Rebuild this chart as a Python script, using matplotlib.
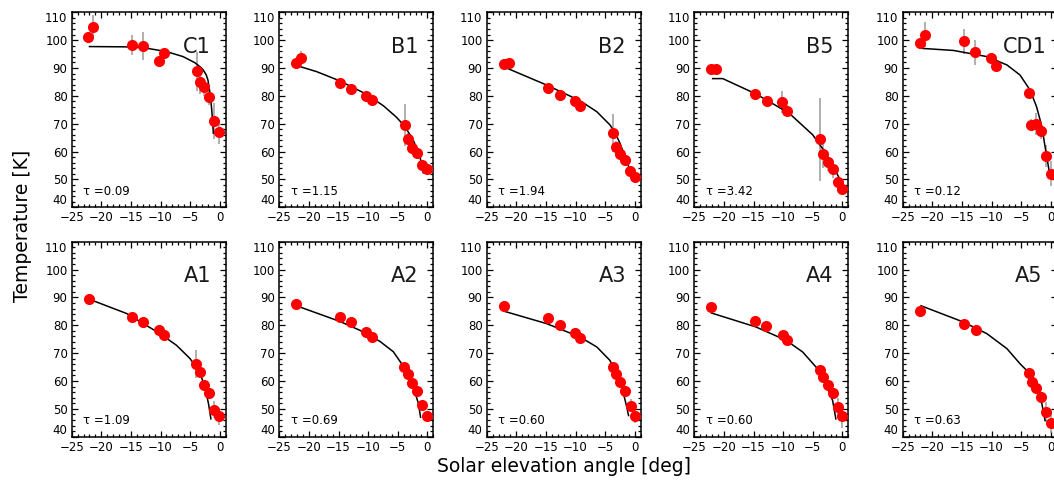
import matplotlib
matplotlib.use("Agg")
import matplotlib.pyplot as plt
from matplotlib.ticker import MultipleLocator

plt.rcParams['font.family'] = ['DejaVu Sans']

# ---------------- data ----------------
panel_names = ["C1", "B1", "B2", "B5", "CD1", "A1", "A2", "A3", "A4", "A5"]
tau_values = [0.09, 1.15, 1.94, 3.42, 0.12, 1.09, 0.69, 0.60, 0.60, 0.63]

x_C1 = [-22.2, -21.4, -14.8, -12.9, -10.3, -9.4, -3.9, -3.3, -2.7, -1.8, -0.9, -0.1]
t_C1 = [101.3, 104.9, 98.3, 97.9, 92.6, 95.3, 88.9, 85.1, 83.1, 79.6, 71.1, 66.9]
e_C1 = [1.0, 4.0, 3.5, 5.0, 1.0, 1.5, 7.0, 4.5, 3.0, 3.0, 6.5, 4.0]
fx_C1 = [-22.0, -16.0, -12.9, -9.0, -6.2, -4.2, -3.3, -2.8, -2.3, -2.0, -1.65, -1.35, -1.08]
ft_C1 = [97.7, 97.6, 97.3, 95.9, 94.1, 91.9, 90.4, 89.3, 87.6, 85.7, 81.0, 74.9, 66.6]

x_B1 = [-22.1, -21.4, -14.8, -12.9, -10.3, -9.3, -3.8, -3.25, -2.6, -1.7, -0.86, -0.05]
t_B1 = [91.9, 93.5, 84.5, 82.4, 80.1, 78.5, 69.6, 64.6, 61.4, 59.6, 55.2, 53.6]
e_B1 = [1.0, 2.5, 1.5, 1.5, 1.0, 1.0, 7.5, 2.0, 2.0, 1.5, 1.5, 1.5]
fx_B1 = [-22.1, -18.7, -14.8, -10.3, -7.4, -5.2, -3.8, -2.4, -1.25, -0.7]
ft_B1 = [90.9, 88.7, 85.4, 80.6, 76.4, 72.3, 69.0, 64.2, 58.2, 52.4]

x_B2 = [-22.0, -21.2, -14.6, -12.7, -10.1, -9.2, -3.7, -3.2, -2.5, -1.65, -0.8, 0.0]
t_B2 = [91.3, 91.9, 82.7, 80.4, 78.3, 76.5, 66.6, 61.8, 59.0, 57.0, 53.2, 51.0]
e_B2 = [1.0, 1.0, 1.0, 1.0, 1.0, 1.0, 6.8, 2.0, 1.5, 2.0, 1.5, 1.0]
fx_B2 = [-22.2, -14.9, -9.2, -6.4, -4.2, -3.3, -2.5, -1.65, -0.8, -0.24]
ft_B2 = [90.5, 83.9, 78.2, 74.3, 69.6, 66.6, 63.0, 58.2, 53.4, 49.8]

x_B5 = [-22.2, -21.3, -14.7, -12.8, -10.2, -9.3, -3.8, -3.2, -2.5, -1.65, -0.8, -0.07]
t_B5 = [89.7, 89.8, 80.6, 78.1, 77.9, 74.6, 64.4, 59.1, 56.1, 53.6, 49.2, 46.7]
e_B5 = [1.0, 1.0, 1.0, 1.0, 4.0, 2.0, 15.0, 5.0, 3.0, 3.0, 1.5, 2.0]
fx_B5 = [-21.9, -20.2, -14.6, -9.0, -5.0, -2.8, -1.1, -0.5]
ft_B5 = [86.2, 86.2, 80.7, 73.8, 66.0, 59.4, 52.8, 50.4]

x_CD1 = [-22.1, -21.2, -14.65, -12.8, -10.1, -9.25, -3.75, -3.3, -2.5, -1.7, -0.8, 0.0]
t_CD1 = [98.9, 101.9, 99.6, 95.6, 93.5, 90.6, 81.0, 69.6, 69.9, 67.4, 58.3, 52.0]
e_CD1 = [1.0, 4.5, 4.5, 4.5, 1.0, 1.5, 1.0, 2.0, 4.0, 3.0, 4.0, 4.5]
fx_CD1 = [-22.1, -16.4, -10.8, -7.4, -5.2, -3.5, -2.4, -1.5, -0.97, -0.58, -0.24]
ft_CD1 = [97.1, 96.3, 94.1, 91.1, 87.5, 82.1, 76.1, 69.0, 61.8, 57.0, 52.5]

x_A1 = [-22.1, -14.8, -12.9, -10.3, -9.4, -3.95, -3.3, -2.65, -1.75, -0.9, -0.07]
t_A1 = [89.5, 83.1, 81.2, 78.4, 76.5, 66.2, 63.1, 58.6, 55.7, 49.7, 47.3]
e_A1 = [1.0, 1.0, 1.0, 1.0, 1.0, 5.0, 1.5, 1.5, 1.5, 3.0, 3.0]
fx_A1 = [-21.6, -15.7, -10.1, -7.3, -5.0, -3.3, -2.5, -1.9, -1.5]
ft_A1 = [89.0, 84.2, 77.0, 72.8, 68.0, 62.6, 57.8, 51.8, 46.4]

x_A2 = [-22.1, -14.8, -12.85, -10.3, -9.3, -3.9, -3.2, -2.55, -1.7, -0.86, -0.02]
t_A2 = [87.7, 83.1, 81.1, 77.6, 75.8, 65.0, 62.6, 59.4, 56.3, 51.5, 47.3]
e_A2 = [1.0, 1.0, 1.0, 1.0, 1.0, 1.0, 1.0, 1.0, 1.0, 1.0, 1.0]
fx_A2 = [-22.1, -14.8, -11.4, -8.0, -5.75, -4.35, -3.2, -2.1, -1.5, -1.15]
ft_A2 = [87.0, 81.4, 78.2, 74.2, 70.5, 66.2, 61.4, 56.0, 51.8, 47.0]

x_A3 = [-22.0, -14.6, -12.7, -10.1, -9.25, -3.75, -3.2, -2.5, -1.65, -0.7, 0.04]
t_A3 = [86.9, 82.7, 80.0, 77.2, 75.4, 65.0, 62.6, 59.6, 56.3, 51.2, 47.3]
e_A3 = [1.0, 1.0, 1.0, 1.0, 1.0, 1.0, 1.5, 1.5, 1.5, 2.5, 2.5]
fx_A3 = [-22.0, -14.9, -9.25, -6.4, -4.2, -2.8, -1.9, -1.35, -1.05]
ft_A3 = [85.0, 80.6, 75.8, 72.2, 67.4, 61.4, 55.4, 50.6, 47.6]

x_A4 = [-22.1, -14.7, -12.85, -10.1, -9.3, -3.8, -3.2, -2.5, -1.65, -0.8, -0.07]
t_A4 = [86.6, 81.5, 79.7, 76.4, 74.6, 64.1, 61.3, 58.7, 55.7, 50.8, 47.3]
e_A4 = [1.0, 1.5, 1.5, 1.0, 1.0, 1.0, 1.5, 1.5, 1.5, 3.0, 4.0]
fx_A4 = [-22.1, -14.6, -9.5, -6.7, -4.45, -2.8, -1.65, -1.1]
ft_A4 = [84.4, 79.4, 74.6, 70.4, 65.0, 59.0, 53.0, 46.4]

x_A5 = [-22.1, -14.65, -12.7, -3.75, -3.15, -2.5, -1.7, -0.8, 0.0]
t_A5 = [85.3, 80.3, 78.2, 62.9, 59.7, 57.4, 54.2, 48.8, 44.8]
e_A5 = [1.0, 1.0, 1.0, 1.0, 1.5, 1.5, 2.0, 3.5, 3.5]
fx_A5 = [-21.9, -14.8, -10.8, -7.4, -5.2, -3.8, -2.4, -1.5, -0.97]
ft_A5 = [87.0, 81.2, 77.0, 71.6, 66.2, 63.2, 57.2, 51.8, 45.8]

x_ticks = [-25, -20, -15, -10, -5, 0]
y_ticks = [40, 50, 60, 70, 80, 90, 100, 110]

panels = [
    (x_C1, t_C1, e_C1, fx_C1, ft_C1),
    (x_B1, t_B1, e_B1, fx_B1, ft_B1),
    (x_B2, t_B2, e_B2, fx_B2, ft_B2),
    (x_B5, t_B5, e_B5, fx_B5, ft_B5),
    (x_CD1, t_CD1, e_CD1, fx_CD1, ft_CD1),
    (x_A1, t_A1, e_A1, fx_A1, ft_A1),
    (x_A2, t_A2, e_A2, fx_A2, ft_A2),
    (x_A3, t_A3, e_A3, fx_A3, ft_A3),
    (x_A4, t_A4, e_A4, fx_A4, ft_A4),
    (x_A5, t_A5, e_A5, fx_A5, ft_A5),
]

# ---------------- layout ----------------
W, H = 1054, 490
fig = plt.figure(figsize=(W / 100, H / 100), dpi=100)
lefts_px = [71.7, 279.3, 486.7, 694.3, 902.7]
width_px = 154.0
row_top_px = [12.3, 241.7]
height_px = 195.0

for i, (name, tau, (xs, ts, es, fx, ft)) in enumerate(zip(panel_names, tau_values, panels)):
    r, c = divmod(i, 5)
    l = lefts_px[c] / W
    b = 1 - (row_top_px[r] + height_px) / H
    ax = fig.add_axes([l, b, width_px / W, height_px / H])
    ax.set_xlim(-25, 1)
    ax.set_ylim(40, 110)

    ax.errorbar(xs, ts, yerr=es, fmt='none', ecolor='#9a9a9a',
                elinewidth=1.1, capsize=0, zorder=2)
    ax.plot(fx, ft, color='black', lw=1.1, zorder=3)
    ax.plot(xs, ts, 'o', color='#ff0000', ms=8, mec='none', zorder=4,
            clip_on=False)

    ax.set_xticks(x_ticks)
    ax.set_xticklabels([f"\u2212{abs(v)}" if v < 0 else str(v) for v in x_ticks])
    ax.set_yticks(y_ticks)
    ax.set_yticklabels([str(v) for v in y_ticks])
    ax.xaxis.set_minor_locator(MultipleLocator(1))
    ax.yaxis.set_minor_locator(MultipleLocator(2))
    ax.tick_params(which='both', direction='in', top=True, right=True,
                   labelsize=8.5, width=0.9, pad=3)
    ax.tick_params(which='major', length=4.5)
    ax.tick_params(which='minor', length=2)
    for s in ax.spines.values():
        s.set_linewidth(1.1)

    yt = ax.yaxis.get_major_ticks()
    yt[0].label1.set_verticalalignment('bottom')
    yt[-1].label1.set_verticalalignment('top')

    xpos = 0.725 if len(name) == 2 else 0.653
    ax.text(xpos, 0.824, name, transform=ax.transAxes, fontsize=15,
            ha='left', va='center', color='#1a1a1a')
    ax.text(0.075, 0.063, f"\u03c4 ={tau:.2f}", transform=ax.transAxes,
            fontsize=8.5, ha='left', va='baseline')

fig.text(0.535, 0.047, "Solar elevation angle [deg]", ha='center', va='center',
         fontsize=13.5)
fig.text(0.021, 0.54, "Temperature [K]", ha='center', va='center',
         rotation=90, fontsize=13.5)

fig.savefig("out.png", dpi=100)
